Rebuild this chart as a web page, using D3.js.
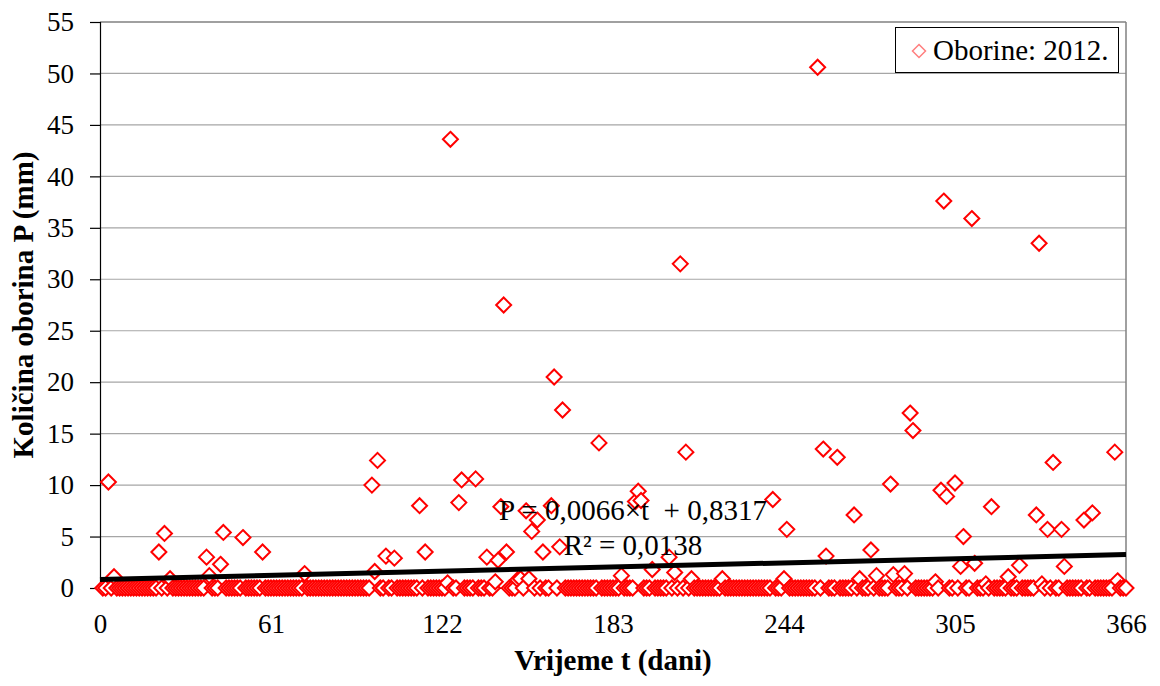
<!DOCTYPE html>
<html>
<head>
<meta charset="utf-8">
<script src="https://cdn.jsdelivr.net/npm/d3@7"></script>
<style>
  html, body { margin: 0; padding: 0; background: #fff; }
  svg { display: block; }
  svg text { font-family: "Times New Roman", Times, "Liberation Serif", Tinos, "DejaVu Serif", serif; fill: #000; }
</style>
</head>
<body>
<svg id="chart" width="1160" height="686"></svg>
<script>
// ---- data (daily precipitation, 2012, day 1..366) ----
const firstDay = 1;
const precipitation = [
  0,0,10.3,0,1.1,0,0,0,0,0,
  0,0,0,0,0,0,0,0,0,0,
  3.5,0,5.3,0,0.9,0,0,0,0,0,
  0,0,0,0,0,0,0,3.0,1.2,0,
  0,0,2.3,5.4,0,0,0,0,0,0,
  4.9,0,0,0,0,0,0,3.5,0,0,
  0,0,0,0,0,0,0,0,0,0,
  0,0,1.4,0,0,0,0,0,0,0,
  0,0,0,0,0,0,0,0,0,0,
  0,0,0,0,0,0,10.0,1.6,12.4,0,
  0,3.1,0,0,2.9,0,0,0,0,0,
  0,0,0,8.0,0,3.5,0,0,0,0,
  0,0,0,0.5,43.6,0,0,8.3,10.5,0,
  0,0,0,10.6,0,0,0,3.0,0,0,
  0.6,2.7,7.9,27.5,3.5,0,0,0,0.8,0.9,
  0,7.5,0.9,5.5,0,6.6,0,3.5,0,0,
  8.0,20.5,0,4.0,17.3,0,0,0,0,0,
  0,0,0,0,0,0,0,14.1,0,0,
  0,0,0,0,0,1.2,0,0,0,0,
  8.4,9.4,8.5,0,0,0,1.8,0,0,0,
  0,0,3.0,0,1.5,0,31.5,0,13.2,0,
  0.9,0,0,0,0,0,0,0,0,0,
  0,0.9,0,0,0,0,0,0,0,0,
  0,0,0,0,0,0,0,0,0,8.6,
  0,0,0,0.9,5.7,0,0,0,0,0,
  0,0,0,0,0,50.6,0,13.5,3.1,0,
  0,0,12.7,0,0,0,0,0,7.1,0,
  0.9,0,0,0,3.7,0,1.2,0,0,0,
  0,10.1,1.3,0,0,0,1.4,0,17.0,15.3,
  0,0,0,0,0,0,0,0.6,0,9.5,
  37.6,8.9,0,0,10.2,0,2.1,5.0,0,0,
  35.9,2.4,0,0,0,0.4,0,7.9,0,0,
  0,0,0,1.1,0,0,0,2.2,0,0,
  0,0,0,7.1,33.5,0.4,0,5.7,0,12.2,
  0,0,5.7,2.1,0,0,0,0,0,0,
  6.6,0,0,7.3,0,0,0,0,0,0,
  0,13.2,0.7,0,0,0
];
const xTicks = [0, 61, 122, 183, 244, 305, 366];
const yTicks = [0, 5, 10, 15, 20, 25, 30, 35, 40, 45, 50, 55];
const trendSlope = 0.0066;
const trendIntercept = 0.8317;
const equationLabel = "P = 0,0066×t  + 0,8317";
const r2Label = "R² = 0,0138";
const seriesLabel = "Oborine: 2012.";
const xTitle = "Vrijeme t (dani)";
const yTitle = "Količina oborina P (mm)";

// ---- layout ----
const FONT = '"Times New Roman", Times, "Liberation Serif", Tinos, "DejaVu Serif", serif';
const L = 100, R = 1126, T = 22, B = 588;
const svg = d3.select("#chart");
const x = d3.scaleLinear().domain([0, 366]).range([L, R]);
const y = d3.scaleLinear().domain([0, 55]).range([B, T]);

const points = precipitation.map((v, i) => ({ t: i + firstDay, p: v }));

// gridlines
svg.append("g")
  .selectAll("line").data(yTicks.filter(d => d > 0 && d < 55)).join("line")
  .attr("x1", L).attr("x2", R)
  .attr("y1", d => y(d)).attr("y2", d => y(d))
  .attr("stroke", "#a6a6a6").attr("stroke-width", 1.2);

// plot border top & right
svg.append("line").attr("x1", L).attr("x2", R).attr("y1", y(55)).attr("y2", y(55))
  .attr("stroke", "#808080").attr("stroke-width", 1.5);
svg.append("line").attr("x1", R).attr("x2", R).attr("y1", T).attr("y2", B)
  .attr("stroke", "#808080").attr("stroke-width", 1.5);

// y axis
const yAxis = d3.axisLeft(y).tickValues(yTicks).tickSize(10).tickPadding(16);
const gy = svg.append("g").attr("transform", `translate(${L},0)`).call(yAxis)
  .attr("font-family", FONT).attr("font-size", 27);
gy.select(".domain").attr("stroke", "#000").attr("stroke-width", 1.2);
gy.selectAll(".tick line").attr("stroke", "#000").attr("stroke-width", 1.2);
gy.selectAll(".tick text").style("font-family", FONT).style("font-size", "27px").attr("fill", "#000");

// x axis
const xAxis = d3.axisBottom(x).tickValues(xTicks).tickSize(0).tickPadding(0).tickFormat(d3.format("d"));
const gx = svg.append("g").attr("transform", `translate(0,${B})`).call(xAxis)
  .attr("font-family", FONT).attr("font-size", 27);
gx.select(".domain").attr("stroke", "#000").attr("stroke-width", 1.2);
gx.selectAll(".tick text")
  .attr("dy", null).attr("y", 45)
  .style("font-family", FONT).style("font-size", "27px").attr("fill", "#000");

// markers
const rr = 7.5;
const diamond = `M0,${-rr}L${rr},0L0,${rr}L${-rr},0Z`;
svg.append("g").selectAll("path").data(points).join("path")
  .attr("d", diamond)
  .attr("transform", d => `translate(${x(d.t)},${y(d.p)})`)
  .attr("fill", "#fff").attr("stroke", "#ff0000").attr("stroke-width", 2);

// trend line
svg.append("line")
  .attr("x1", x(0)).attr("y1", y(trendIntercept))
  .attr("x2", x(366)).attr("y2", y(trendIntercept + trendSlope * 366))
  .attr("stroke", "#000").attr("stroke-width", 5);

// equation
svg.append("text").attr("x", 633).attr("y", 520).attr("text-anchor", "middle")
  .style("font-family", FONT).style("font-size", "29px").style("white-space", "pre").text(equationLabel);
svg.append("text").attr("x", 633).attr("y", 555).attr("text-anchor", "middle")
  .style("font-family", FONT).style("font-size", "29px").text(r2Label);

// axis titles
svg.append("text").attr("x", (L + R) / 2).attr("y", 670).attr("text-anchor", "middle")
  .style("font-family", FONT).style("font-size", "29px").style("font-weight", "bold").text(xTitle);
svg.append("text").attr("transform", `translate(33,${(T + B) / 2}) rotate(-90)`)
  .attr("text-anchor", "middle")
  .style("font-family", FONT).style("font-size", "29px").style("font-weight", "bold").text(yTitle);

// legend
const lg = svg.append("g");
lg.append("rect").attr("x", 895.5).attr("y", 27.5).attr("width", 223).attr("height", 45)
  .attr("fill", "#fff").attr("stroke", "#000").attr("stroke-width", 1);
const lr = 6.5;
lg.append("path").attr("d", `M0,${-lr}L${lr},0L0,${lr}L${-lr},0Z`)
  .attr("transform", "translate(919,51)")
  .attr("fill", "#fff").attr("stroke", "#ff7f7f").attr("stroke-width", 1.5);
lg.append("text").attr("x", 933).attr("y", 60)
  .style("font-family", FONT).style("font-size", "29px").text(seriesLabel);
</script>
</body>
</html>
